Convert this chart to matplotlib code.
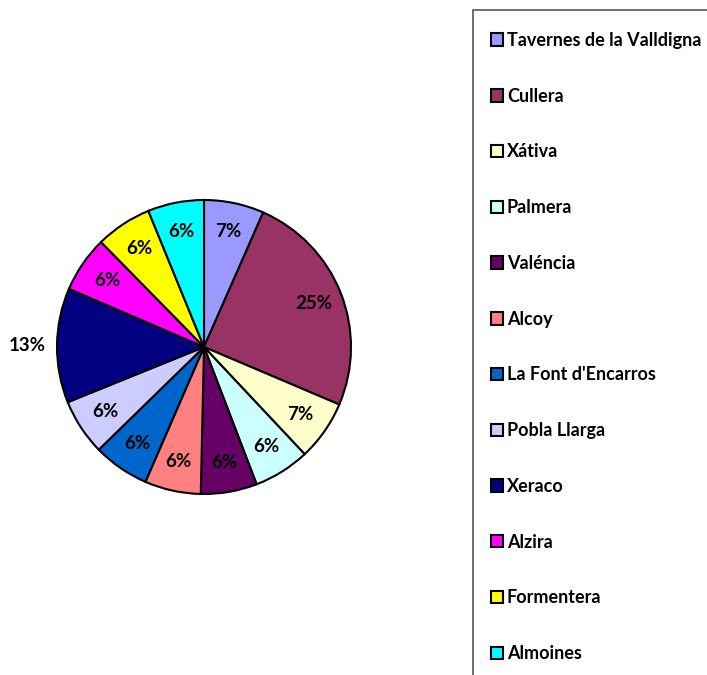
import numpy as np
import matplotlib.pyplot as plt
from matplotlib.patches import Patch, Rectangle

plt.rcParams['font.family'] = ['Lato', 'DejaVu Sans']

# dades del gràfic (percentatges)
places = ["Tavernes de la Valldigna", "Cullera", "Xátiva", "Palmera", "Valéncia",
          "Alcoy", "La Font d'Encarros", "Pobla Llarga", "Xeraco", "Alzira",
          "Formentera", "Almoines"]
shares = [6.6, 24.8, 6.6, 6.175, 6.175, 6.175, 6.175, 6.175, 12.6, 6.175, 6.175, 6.175]
colors = ["#9999FF", "#993366", "#FFFFCC", "#CCFFFF", "#660066", "#FF8080",
          "#0066CC", "#CCCCFF", "#000080", "#FF00FF", "#FFFF00", "#00FFFF"]

fig = plt.figure(figsize=(7.07, 6.75), dpi=100)
ax = fig.add_axes([57 / 707, (675 - 347 - 147) / 675, 294 / 707, 294 / 675])

wedges, texts, autotexts = ax.pie(
    shares, colors=colors, startangle=90, counterclock=False,
    autopct="%1.0f%%", pctdistance=0.8,
    wedgeprops=dict(edgecolor="black", linewidth=1.5),
    textprops=dict(fontsize=13.5, fontweight="bold", color="black"))
ax.set_xlim(-1, 1)
ax.set_ylim(-1, 1)

# l'etiqueta de Xeraco va fora del pastís
w = wedges[places.index("Xeraco")]
ang = np.deg2rad((w.theta1 + w.theta2) / 2)
autotexts[places.index("Xeraco")].set_position((1.2 * np.cos(ang), 1.2 * np.sin(ang)))

# marc de la llegenda (tallat per la vora de la figura)
fig.patches.append(Rectangle((473 / 707, -0.1), 0.5, 1.1 - 10 / 675,
                             transform=fig.transFigure, facecolor="none",
                             edgecolor="#555555", linewidth=1.2))

handles = [Patch(facecolor=c, edgecolor="black", linewidth=1.5) for c in colors]
fig.legend(handles, places, loc="upper left", bbox_to_anchor=(482 / 707, 1 - 23 / 675),
           frameon=False, prop=dict(family=['Lato', 'DejaVu Sans'], size=13, weight="bold"),
           handlelength=0.68, handleheight=0.68, handletextpad=0.2, labelspacing=2.145,
           borderpad=0)

fig.savefig("out.png", dpi=100)
